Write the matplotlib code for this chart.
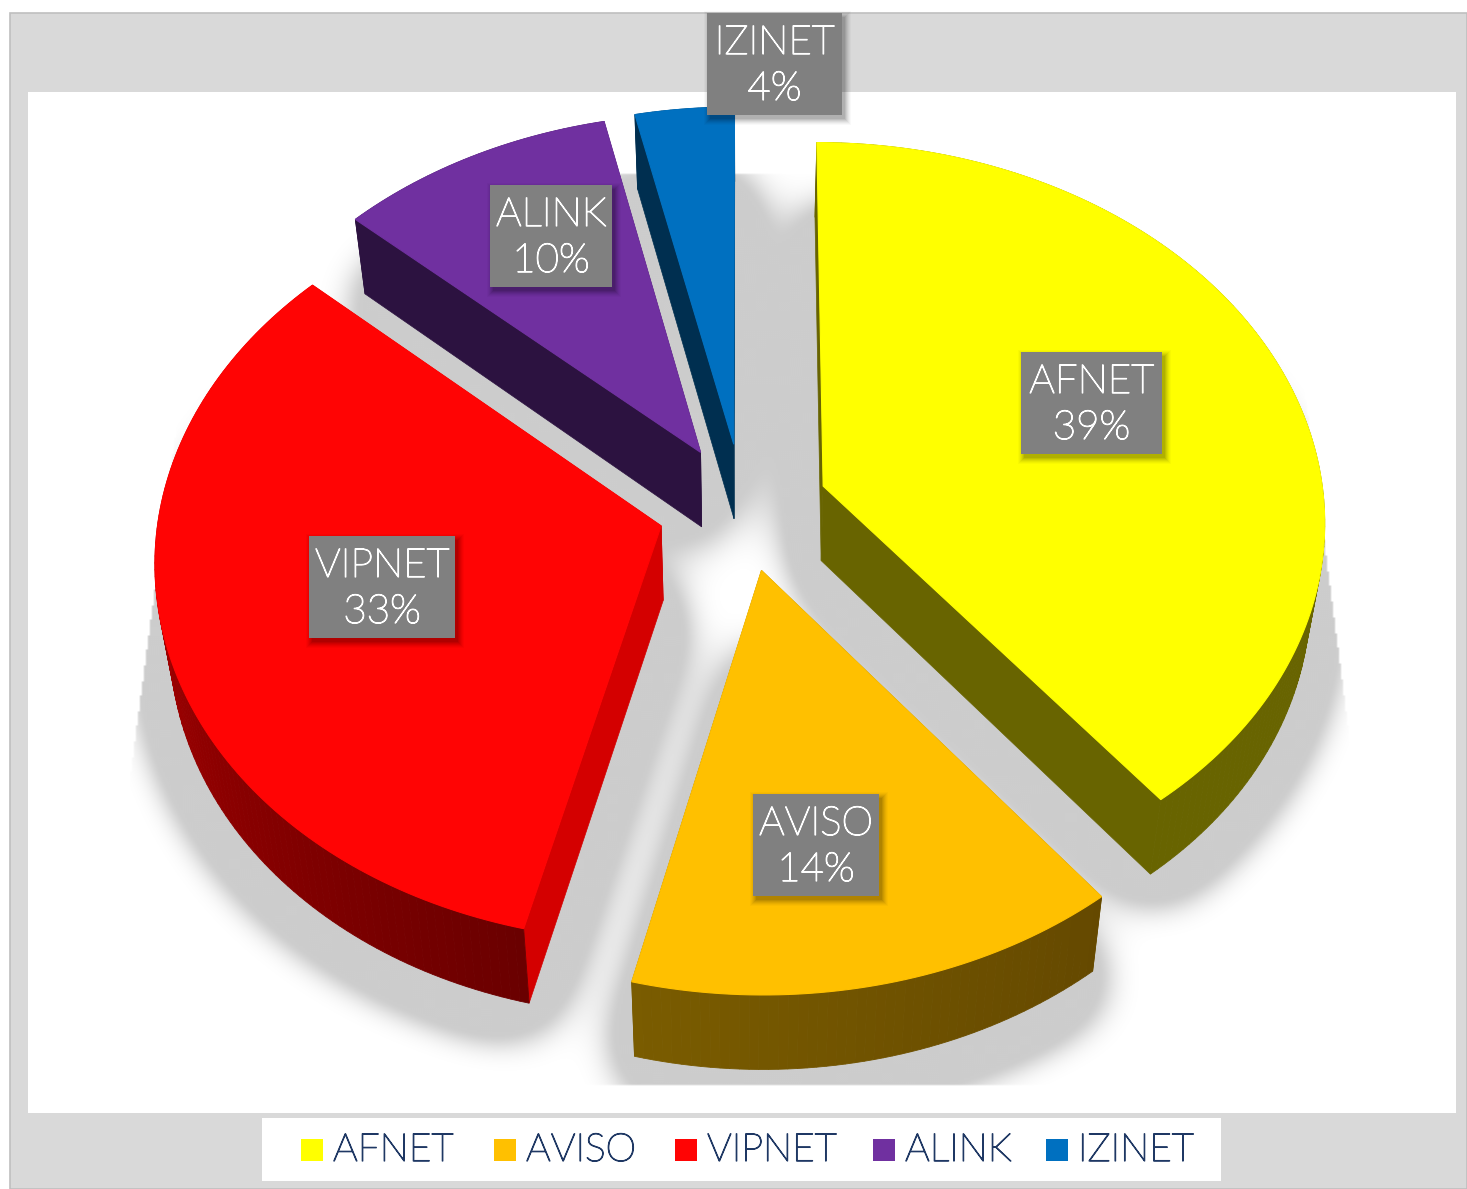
import numpy as np
import matplotlib
matplotlib.use("Agg")
import matplotlib.pyplot as plt
import matplotlib.patheffects as pe
from matplotlib.path import Path
from matplotlib.patches import Polygon, Rectangle

names = ["AFNET", "AVISO", "VIPNET", "ALINK", "IZINET"]
shares = [39.35, 14.45, 32.9, 9.8, 3.5]

top_colors = ["#FFFF00", "#FFC000", "#FF0404", "#7030A0", "#0070C0"]
radial_colors = ["#686400", "#785A00", "#D40000", "#2C1240", "#002F50"]
arc_start_colors = ["#686400", "#654900", "#6A0000", "#2C1240", "#002F50"]
arc_end_colors = ["#686400", "#7A5C00", "#C80000", "#2C1240", "#002F50"]
draw_order = [3, 4, 0, 2, 1]

label_boxes = [(1021, 352, 1162, 454), (753, 794, 879, 896), (309, 536, 455, 638),
               (490, 185, 612, 287), (707, 13, 842, 115)]
legend_square_x = [301, 494, 675, 873, 1046]
legend_text_x = [333, 526, 707, 905, 1078]

W, H = 1467, 1189
CX, CY, RX, RY, P, EXPLODE = 743.0, 507.0, 501.5, 376.5, 0.086, 0.17
DEPTH, BOTTOM_SCALE = 74.5, 0.975

FONT = "Lato"
plt.rcParams["font.family"] = [FONT, "DejaVu Sans"]

fig = plt.figure(figsize=(W / 100, H / 100), dpi=100, facecolor="white")
ax = fig.add_axes([0, 0, 1, 1])
ax.set_xlim(0, W)
ax.set_ylim(H, 0)
ax.axis("off")


def project(u, v, lower=False):
    w = 1 + P * v
    x = RX * u / w
    y = -RY * v / w
    if lower:
        return CX + BOTTOM_SCALE * x, CY + y + DEPTH
    return CX + x, CY + y


def slice_geometry(a0, a1):
    mid = (a0 + a1) / 2
    ou, ov = EXPLODE * np.sin(mid), EXPLODE * np.cos(mid)
    n = max(8, int((a1 - a0) / np.radians(1.0)))
    th = np.linspace(a0, a1, n)
    return ou, ov, ou + np.sin(th), ov + np.cos(th), th


ax.add_patch(Rectangle((10, 13), W - 10, H - 13, fc="#D9D9D9", ec="#BFBFBF", lw=1.2, zorder=0))
ax.add_patch(Rectangle((28, 92), 1428, 1021, fc="white", ec="none", zorder=1))

fractions = np.array(shares) / sum(shares)
edges = np.concatenate([[0], np.cumsum(fractions)]) * 2 * np.pi

# soft shadow raster computed from the lower faces of the slices
step = 2
gx, gy = np.meshgrid(np.arange(0, W, step) + step / 2, np.arange(0, H, step) + step / 2)
pts = np.column_stack([gx.ravel(), gy.ravel()])
mask = np.zeros(gx.shape)
for i in range(len(names)):
    ou, ov, us, vs, _ = slice_geometry(edges[i], edges[i + 1])
    bx, by = project(np.r_[ou, us], np.r_[ov, vs], lower=True)
    path = Path(np.column_stack([bx, by + 12]))
    mask = np.maximum(mask, path.contains_points(pts).reshape(gx.shape).astype(float))


def box_blur(a, r, axis):
    c = np.cumsum(np.insert(a, 0, 0, axis=axis), axis=axis)
    size = a.shape[axis]
    lo = np.clip(np.arange(size) - r, 0, size)
    hi = np.clip(np.arange(size) + r + 1, 0, size)
    return (np.take(c, hi, axis=axis) - np.take(c, lo, axis=axis)) / (2 * r + 1)


field = mask
for _ in range(3):
    field = box_blur(box_blur(field, 16, 0), 16, 1)
t = np.clip((field - 0.005) / (0.17 - 0.005), 0, 1)
alpha = 0.2 * t * t * (3 - 2 * t)
left = 155 - (gy - 590) * 0.1316
right = 1325 + (gy - 540) * 0.1286
alpha *= (gy >= 175) & (gy <= 1085) & (gx >= left) & (gx <= right)
rgba = np.zeros(gx.shape + (4,))
rgba[..., 3] = alpha
ax.imshow(rgba, extent=(0, W, H, 0), interpolation="bilinear", zorder=2, aspect="auto")
ax.set_xlim(0, W)
ax.set_ylim(H, 0)

z = 3.0
for i in draw_order:
    ou, ov, us, vs, th = slice_geometry(edges[i], edges[i + 1])
    ax_, ay_ = project(ou, ov)
    bx_, by_ = project(ou, ov, lower=True)
    tx, ty = project(us, vs)
    lx, ly = project(us, vs, lower=True)
    for j in (0, -1):
        ax.add_patch(Polygon([(ax_, ay_), (tx[j], ty[j]), (lx[j], ly[j]), (bx_, by_)],
                             fc=radial_colors[i], ec=radial_colors[i], lw=0.5, zorder=z))
    c0 = np.array(matplotlib.colors.to_rgb(arc_start_colors[i]))
    c1 = np.array(matplotlib.colors.to_rgb(arc_end_colors[i]))
    for k in range(len(th) - 1):
        f = (k + 0.5) / (len(th) - 1)
        col = c0 + (c1 - c0) * f
        ax.add_patch(Polygon([(tx[k], ty[k]), (tx[k + 1], ty[k + 1]), (lx[k + 1], ly[k + 1]), (lx[k], ly[k])],
                             fc=col, ec=col, lw=0.6, zorder=z))
    ax.add_patch(Polygon(np.column_stack([np.r_[ax_, tx], np.r_[ay_, ty]]),
                         fc=top_colors[i], ec=top_colors[i], lw=0.8, zorder=z + 0.1))
    z += 1

# data labels
white_stroke = [pe.withStroke(linewidth=0.9, foreground="white")]
for i, (x0, y0, x1, y1) in enumerate(label_boxes):
    for grow, a in ((6, 0.025), (5, 0.03), (4, 0.04), (3, 0.05), (2, 0.06), (1, 0.07), (0, 0.08)):
        ax.add_patch(Rectangle((x0 + 3 - grow, y0 + 4 - grow), x1 - x0 + 2 * grow, y1 - y0 + 2 * grow,
                               fc="black", alpha=a, ec="none", zorder=20))
    ax.add_patch(Rectangle((x0, y0), x1 - x0, y1 - y0, fc="#808080", ec="none", zorder=21))
    xc = (x0 + x1) / 2
    ax.text(xc, y0 + 30, names[i], color="white", fontsize=29, fontweight="light",
            ha="center", va="center", zorder=22, path_effects=white_stroke)
    ax.text(xc, y0 + 76, f"{int(shares[i] + 0.5)}%", color="white", fontsize=29, fontweight="light",
            ha="center", va="center", zorder=22, path_effects=white_stroke)

# legend
navy_stroke = [pe.withStroke(linewidth=0.9, foreground="#1F3864")]
ax.add_patch(Rectangle((262, 1118), 959, 63, fc="white", ec="none", zorder=1))
for i, name in enumerate(names):
    ax.add_patch(Rectangle((legend_square_x[i], 1139), 22, 22, fc=top_colors[i], ec="none", zorder=3))
    ax.text(legend_text_x[i], 1150, name, color="#1F3864", fontsize=28, fontweight="light",
            ha="left", va="center", zorder=3, path_effects=navy_stroke)

fig.savefig("out.png", dpi=100)
